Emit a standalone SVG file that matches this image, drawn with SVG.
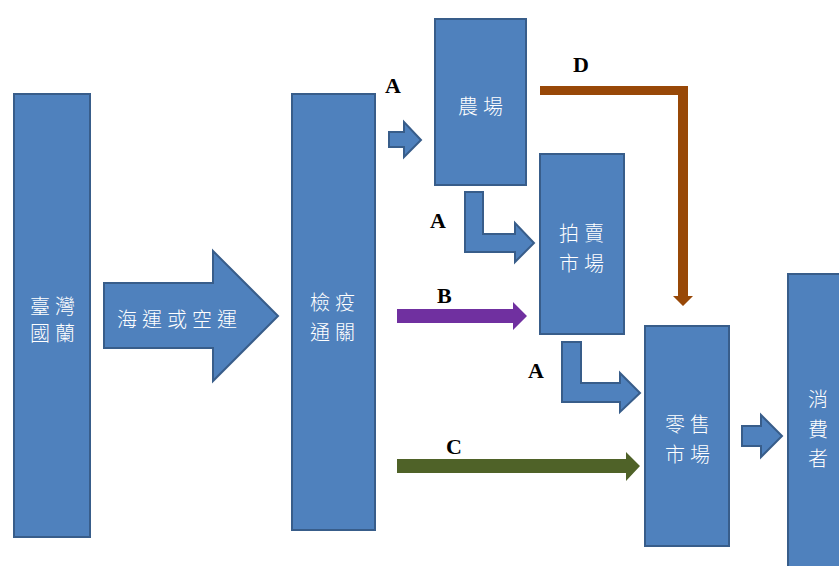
<svg xmlns="http://www.w3.org/2000/svg" width="839" height="566" viewBox="0 0 839 566">
<style>
.box{fill:#4F81BD;stroke:#385D8A;stroke-width:2}
.arr{fill:#4F81BD;stroke:#385D8A;stroke-width:2;stroke-linejoin:miter}
.t{font-family:"Noto Sans CJK TC","Noto Sans CJK SC",sans-serif;font-size:20px;font-weight:300;fill:#fff;letter-spacing:5px;dominant-baseline:central}
.lbl{font-family:"Liberation Serif",serif;font-size:22px;font-weight:bold;fill:#000}
</style>
<rect width="839" height="566" fill="#fff"/>
<g id="connectors">
<path id="ship" class="arr" d="M104,283 H213 V251 L278,316 L213,381 V348 H104 Z"/>
<path id="a1" class="arr" d="M389,132 H404 V122 L421,140 L404,157 V147 H389 Z"/>
<path id="a2" class="arr" d="M465,192 H483 V234 H515 V223 L534,243 L515,262 V252 H465 Z"/>
<path id="a3" class="arr" d="M562,342 H581 V383 H620 V373 L640,393 L620,412 V402 H562 Z"/>
<path id="a4" class="arr" d="M742,426 H761 V415 L782,436 L761,457 V446 H742 Z"/>
<path id="b" fill="#7030A0" d="M397,309 H513 V302 L527,316 L513,330 V323 H397 Z"/>
<path id="c" fill="#4F6228" d="M397,459 H626 V452 L640,466 L626,481 V473 H397 Z"/>
<path id="d" fill="#984807" d="M540,86 H688 V296 H693 L683,306 L673,296 H678 V95 H540 Z"/>
<text class="t" x="117" y="318" letter-spacing="4.5">海運或空運</text>
<text class="lbl" x="385" y="93">A</text>
<text class="lbl" x="573" y="72">D</text>
<text class="lbl" x="430" y="228">A</text>
<text class="lbl" x="437" y="303">B</text>
<text class="lbl" x="528" y="378">A</text>
<text class="lbl" x="446" y="454">C</text>
</g>
<g id="taiwan">
<rect class="box" x="14" y="94" width="76" height="443"/>
<text class="t" x="30" y="305">臺灣</text>
<text class="t" x="30" y="332">國蘭</text>
</g>
<g id="quarantine">
<rect class="box" x="292" y="94" width="83" height="436"/>
<text class="t" x="310" y="301">檢疫</text>
<text class="t" x="310" y="331">通關</text>
</g>
<g id="farm">
<rect class="box" x="435" y="19" width="91" height="166"/>
<text class="t" x="458" y="105">農場</text>
</g>
<g id="auction">
<rect class="box" x="540" y="154" width="84" height="180"/>
<text class="t" x="559" y="232">拍賣</text>
<text class="t" x="559" y="262">市場</text>
</g>
<g id="retail">
<rect class="box" x="645" y="326" width="84" height="220"/>
<text class="t" x="665" y="423">零售</text>
<text class="t" x="665" y="453">市場</text>
</g>
<g id="consumer">
<rect class="box" x="788" y="274" width="60" height="300"/>
<text class="t" x="808" y="398">消</text>
<text class="t" x="808" y="428">費</text>
<text class="t" x="808" y="457">者</text>
</g>
</svg>
